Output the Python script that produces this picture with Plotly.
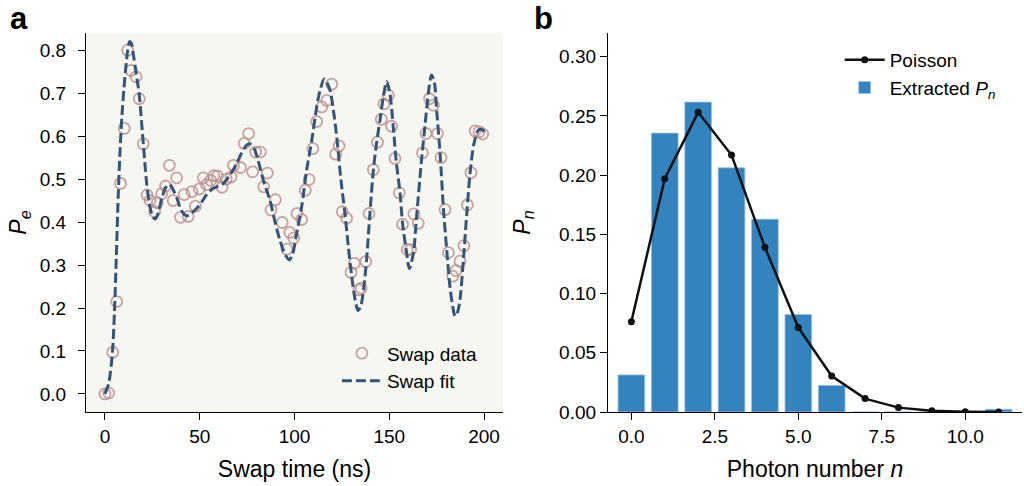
import plotly.graph_objects as go
from plotly.subplots import make_subplots

# panel a: swap data
swap_t = [0, 2, 4.1, 6.2, 8.2, 10.2, 12, 13.8, 16.4, 18.1, 20.2, 22.2, 23.8, 26.2,
          27.6, 29.9, 32, 34, 36, 37.8, 39.9, 41.8, 43.9, 45.9, 47.7, 49.8, 51.9,
          53.6, 55.8, 57.5, 59.3, 61.8, 64, 66.5, 67.8, 71.5, 73.5, 75.8, 77.9,
          79.5, 82, 83.7, 85.7, 87.6, 89.9, 93.5, 96, 97.5, 99.6, 101.3, 103.8,
          105.7, 107.7, 109.7, 111.7, 114.4, 117, 119.6, 121.7, 123.5, 125.2,
          127.5, 129.8, 131.6, 134, 135.1, 137.6, 139.3, 141.6, 143.8, 145.8,
          147.2, 149.5, 151.2, 153, 155.3, 157, 159.5, 161.3, 163, 165.3, 167.5,
          169.4, 171.2, 173.3, 175.4, 177.3, 179.4, 181.2, 183.5, 185.2, 187.3,
          189.4, 191.2, 193.1, 195.3, 197.4, 199.3]
swap_pe = [0.0, 0.002, 0.097, 0.215, 0.49, 0.618, 0.80, 0.753, 0.738, 0.687, 0.582,
           0.463, 0.45, 0.424, 0.445, 0.466, 0.484, 0.532, 0.45, 0.503, 0.411,
           0.464, 0.413, 0.471, 0.437, 0.477, 0.503, 0.487, 0.497, 0.508, 0.507,
           0.481, 0.50, 0.505, 0.532, 0.527, 0.583, 0.606, 0.517, 0.563, 0.563,
           0.482, 0.514, 0.428, 0.452, 0.399, 0.337, 0.376, 0.363, 0.42, 0.406,
           0.474, 0.499, 0.571, 0.634, 0.668, 0.683, 0.721, 0.558, 0.577, 0.424,
           0.409, 0.283, 0.304, 0.242, 0.246, 0.308, 0.42, 0.522, 0.586, 0.639,
           0.675, 0.695, 0.623, 0.548, 0.468, 0.395, 0.336, 0.336, 0.419, 0.397,
           0.561, 0.606, 0.687, 0.672, 0.606, 0.55, 0.429, 0.329, 0.274, 0.287,
           0.309, 0.345, 0.44, 0.515, 0.612, 0.61, 0.605]

# swap fit curve
fit_t = [0, 2, 4, 5, 6, 7, 8, 9, 10, 11, 12, 13, 14, 15, 16, 17, 18, 19, 20, 21,
         22, 23, 24, 25, 26.5, 28, 30, 32, 34, 36, 38, 40, 42, 43.5, 45, 47.5, 50,
         53.5, 57, 60, 62.5, 66, 69.5, 72, 74.5, 76.5, 79, 81, 83.5, 87, 89.7,
         92.3, 95, 97.3, 99, 101, 103.8, 106.4, 109, 111.7, 113.5, 115.7, 118.5,
         121, 122.8, 124.5, 126.6, 128.4, 130.2, 132, 133.5, 135, 136.5, 138,
         139.8, 141.6, 143.4, 145.1, 146.9, 148.6, 150.3, 152.1, 153.6, 155.7,
         157, 159.2, 160.6, 162.7, 164.4, 167, 168.8, 170.6, 172.3, 173.8, 175,
         176.8, 178.5, 180.3, 182, 183.5, 184.7, 186, 187.3, 189.1, 190.9, 192.6,
         194.7, 197, 199, 200]
fit_pe = [0.0, 0.025, 0.10, 0.19, 0.32, 0.46, 0.57, 0.65, 0.71, 0.76, 0.80, 0.82,
          0.815, 0.79, 0.76, 0.73, 0.70, 0.65, 0.595, 0.54, 0.49, 0.455, 0.43,
          0.415, 0.407, 0.42, 0.455, 0.48, 0.488, 0.475, 0.455, 0.43, 0.417, 0.415,
          0.418, 0.428, 0.44, 0.463, 0.478, 0.484, 0.49, 0.51, 0.536, 0.56, 0.578,
          0.582, 0.568, 0.54, 0.498, 0.451, 0.401, 0.358, 0.325, 0.312, 0.325,
          0.37, 0.436, 0.521, 0.587, 0.668, 0.707, 0.733, 0.71, 0.645, 0.575,
          0.498, 0.42, 0.343, 0.273, 0.219, 0.194, 0.205, 0.245, 0.311, 0.42,
          0.521, 0.587, 0.637, 0.692, 0.727, 0.70, 0.622, 0.544, 0.467, 0.397,
          0.327, 0.292, 0.327, 0.412, 0.544, 0.622, 0.70, 0.742, 0.725, 0.66,
          0.56, 0.436, 0.335, 0.25, 0.203, 0.181, 0.19, 0.219, 0.312, 0.42, 0.513,
          0.583, 0.614, 0.615, 0.61]

# panel b: photon number distribution
photon_n = [0, 1, 2, 3, 4, 5, 6, 7, 8, 9, 10, 11]
extracted_pn = [0.0313, 0.2355, 0.2617, 0.2062, 0.1628, 0.0823, 0.0225,
                0.0, 0.0, 0.0, 0.0, 0.0023]
poisson_pn = [0.0763, 0.197, 0.253, 0.217, 0.139, 0.0713, 0.0304, 0.0113,
              0.0037, 0.001, 0.0003, 0.0001]

FONT = "Liberation Sans, Arial, sans-serif"

fig = make_subplots(rows=1, cols=2)

fig.add_trace(go.Scatter(
    x=swap_t, y=swap_pe, mode="markers", name="Swap data",
    marker=dict(symbol="circle-open", size=11, color="rgba(185,140,140,0.8)",
                line=dict(width=1.8)),
    legend="legend",
), row=1, col=1)
fig.add_trace(go.Scatter(
    x=fit_t, y=fit_pe, mode="lines", name="Swap fit",
    line=dict(color="#34557a", width=3, dash="10px,4px", shape="spline", smoothing=0.8),
    legend="legend",
), row=1, col=1)

fig.add_trace(go.Bar(
    x=photon_n, y=extracted_pn, name="Extracted <i>P<sub>n</sub></i>", width=0.8,
    marker=dict(color="#3283be", line=dict(color="#9cc3e4", width=0.8)),
    legend="legend2",
), row=1, col=2)
fig.add_trace(go.Scatter(
    x=photon_n, y=poisson_pn, mode="lines+markers", name="Poisson",
    line=dict(color="#111111", width=2.5), marker=dict(size=7, color="#111111"),
    legend="legend2",
), row=1, col=2)

fig.update_layout(
    width=1024, height=486,
    margin=dict(l=0, r=0, t=33, b=74, autoexpand=False),
    paper_bgcolor="white",
    plot_bgcolor="#f7f7f2",
    font=dict(family=FONT, size=19, color="black"),
    legend=dict(x=0.329, y=0.205, xanchor="left", yanchor="top", itemwidth=40,
                bgcolor="rgba(0,0,0,0)", font=dict(size=19), tracegroupgap=0),
    legend2=dict(x=0.82, y=0.979, xanchor="left", yanchor="top", itemwidth=40,
                 bgcolor="rgba(0,0,0,0)", font=dict(size=19), traceorder="reversed"),
    shapes=[dict(type="rect", xref="x2 domain", yref="y2 domain", x0=0, x1=1,
                 y0=0, y1=1, fillcolor="white", line_width=0, layer="below")],
    annotations=[
        dict(text="<b>a</b>", x=19 / 1024, y=1.0, xref="paper", yref="paper",
             xanchor="center", yanchor="top", yshift=34, showarrow=False,
             font=dict(size=31)),
        dict(text="<b>b</b>", x=543 / 1024, y=1.0, xref="paper", yref="paper",
             xanchor="center", yanchor="top", yshift=34, showarrow=False,
             font=dict(size=31)),
    ],
)

axis_style = dict(showline=True, linecolor="black", linewidth=1.2, mirror=False,
                  ticks="outside", ticklen=7, tickwidth=1.2, tickcolor="black",
                  showgrid=False, zeroline=False, automargin=False)

fig.update_xaxes(axis_style)
fig.update_yaxes(axis_style)

fig.update_xaxes(domain=[86 / 1024, 503 / 1024], range=[-10, 210],
                 tickvals=[0, 50, 100, 150, 200],
                 title=dict(text="Swap time (ns)", standoff=14), row=1, col=1)
fig.update_yaxes(range=[-0.042, 0.84], tickvals=[0, 0.1, 0.2, 0.3, 0.4, 0.5, 0.6, 0.7, 0.8],
                 tickformat=".1f", ticklabelstandoff=8,
                 title=dict(text="<i>P<sub>e</sub></i>", standoff=6), row=1, col=1)

fig.update_xaxes(domain=[608 / 1024, 1022 / 1024], range=[-0.7, 11.7],
                 tickvals=[0, 2.5, 5, 7.5, 10], tickformat=".1f",
                 title=dict(text="Photon number <i>n</i>", standoff=14), row=1, col=2)
fig.update_yaxes(range=[0, 0.32], tickvals=[0, 0.05, 0.1, 0.15, 0.2, 0.25, 0.3],
                 tickformat=".2f",
                 title=dict(text="<i>P<sub>n</sub></i>", standoff=22), row=1, col=2)

# drop the default page margin so the figure sits at the window's corner
fig.write_html("out.html", config={"displayModeBar": False},
               post_script="document.body.style.margin = '0px';")
